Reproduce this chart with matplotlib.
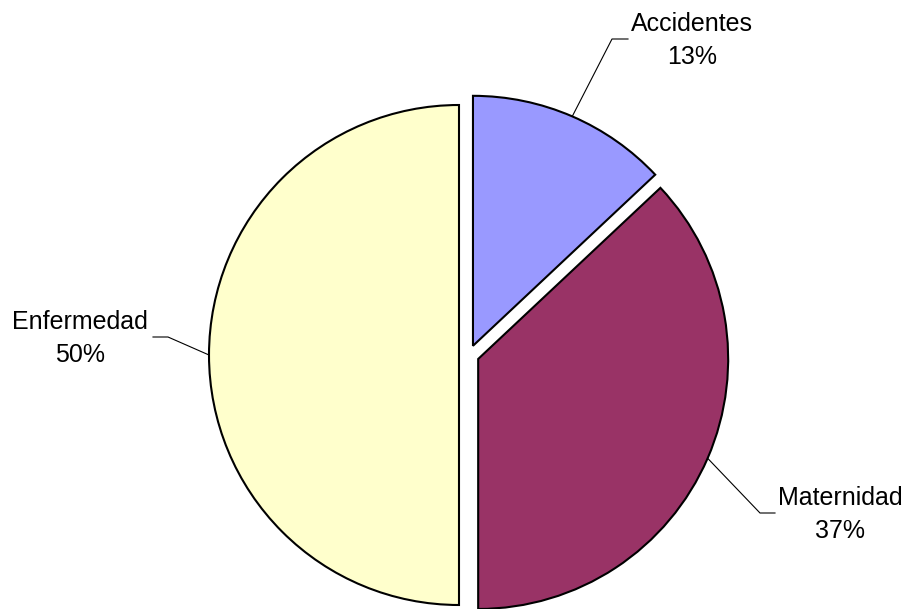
import matplotlib
matplotlib.use("Agg")
import matplotlib.pyplot as plt
import numpy as np

plt.rcParams['font.family'] = ['Liberation Sans', 'DejaVu Sans']

# data
categories = ["Accidentes", "Maternidad", "Enfermedad"]
shares = [13, 37, 50]
colors = ["#9999FF", "#993366", "#FFFFCC"]

W, H = 909, 609
cx, cy, rad = 469, 355, 250  # pie centre / radius in pixels


def to_unit(px, py):
    return (px - cx) / rad, (cy - py) / rad


fig = plt.figure(figsize=(W / 100, H / 100), dpi=100, facecolor='w')
ax = fig.add_axes([0, 0, 1, 1])
x0, y0 = to_unit(0, H)
x1, y1 = to_unit(W, 0)

expl = 0.04
wedges, _ = ax.pie(shares, colors=colors, startangle=90, counterclock=False,
                   explode=[expl] * len(shares), radius=1, center=(0, 0),
                   wedgeprops=dict(edgecolor='black', linewidth=1.5),
                   frame=True)
ax.set_xlim(x0, x1)
ax.set_ylim(y0, y1)
ax.set_aspect('equal')
ax.axis('off')

# leader lines: elbow point, end point (pixels), text side
leaders = {
    "Accidentes": ((612, 39), (628, 39), 'left'),
    "Maternidad": ((760, 513), (775, 513), 'left'),
    "Enfermedad": ((168, 337), (153, 337), 'right'),
}

for w, name, val in zip(wedges, categories, shares):
    mid = np.deg2rad((w.theta1 + w.theta2) / 2)
    ox, oy = w.center
    ex, ey = ox + np.cos(mid), oy + np.sin(mid)
    (bx, by), (tx, ty), side = leaders[name]
    bu, bv = to_unit(bx, by)
    tu, tv = to_unit(tx, ty)
    ax.plot([ex, bu, tu], [ey, bv, tv], color='black', linewidth=0.8,
            solid_joinstyle='miter', zorder=0)
    off = 3 / rad if side == 'left' else -5 / rad
    ax.text(tu + off, tv - 1.5 / rad, "%s\n%d%%" % (name, val), ha=side,
            va='center', multialignment='center',
            fontsize=18, linespacing=1.45)

fig.savefig("out.png", dpi=100, facecolor='w')
